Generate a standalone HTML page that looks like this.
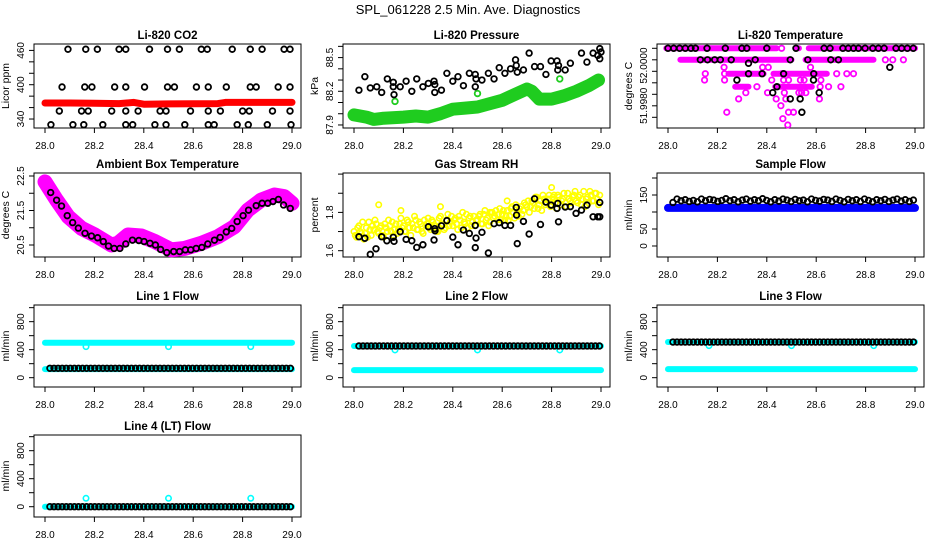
<!DOCTYPE html>
<html><head><meta charset="utf-8">
<style>
html,body{margin:0;padding:0;background:#fff;}
svg{display:block;font-family:"Liberation Sans",Arial,sans-serif;}
</style></head>
<body>
<svg id="chart" width="936" height="540" viewBox="0 0 936 540" xmlns="http://www.w3.org/2000/svg">
<rect width="936" height="540" fill="#fff"/>
<text x="468" y="14" text-anchor="middle" font-size="13" fill="#000">SPL_061228  2.5 Min. Ave. Diagnostics</text>
</svg>
<script>
// ---- data (times are hours after 28.0) ----
const xTickValues=[0,0.2,0.4,0.6,0.8,1.0];
const xTickLabels=["28.0","28.2","28.4","28.6","28.8","29.0"];

// CO2
const co2BlackTimes=[.093,.165,.212,.3,.327,.423,.496,.544,.633,.657,.758,.831,.879,.968,.992,
 .069,.161,.19,.282,.327,.403,.496,.524,.613,.661,.734,.831,.855,.944,.992,
 .058,.148,.175,.27,.327,.377,.466,.49,.589,.661,.71,.8,.827,.921,.992,
 .024,.113,.157,.234,.327,.355,.445,.49,.566,.661,.685,.778,.823,.9,.996];
const co2BlackValues=[462,462,462,462,462,462,462,462,462,462,462,462,462,462,462,
 396,396,396,396,396,396,396,396,396,396,396,396,396,396,396,
 354,354,354,354,354,354,354,354,354,354,354,354,354,354,354,
 330,330,330,330,330,330,330,330,330,330,330,330,330,330,330];
const co2RedTimes=[0,.1,.2,.3,.36,.4,.5,.7,.73,1];
const co2RedValues=[368,368,367.5,367,369,366,366.5,367,369,369];

// Pressure
const presBlackTimes=[.02,.044,.066,.092,.112,.135,.159,.159,.162,.187,.211,.234,.254,.279,.301,.324,.327,.327,.354,.376,.4,.421,.443,.467,.491,.494,.491,.518,.544,.567,.588,.611,.634,.654,.657,.661,.686,.709,.731,.755,.777,.798,.822,.825,.828,.855,.876,.921,.943,.968,.987,.995,.995,1.0];
const presBlackValues=[88.21,88.33,88.23,88.24,88.19,88.31,88.28,88.24,88.17,88.24,88.29,88.20,88.31,88.24,88.27,88.29,88.26,88.19,88.21,88.36,88.29,88.33,88.25,88.36,88.35,88.31,88.24,88.30,88.36,88.31,88.41,88.36,88.40,88.48,88.43,88.37,88.39,88.54,88.42,88.42,88.35,88.47,88.47,88.39,88.43,88.39,88.45,88.54,88.46,88.54,88.52,88.58,88.49,88.55];
const presGreenTimes=[0,.05,.08,.12,.2,.25,.3,.35,.4,.45,.5,.55,.6,.65,.7,.72,.75,.8,.85,.9,.95,.99];
const presGreenValues=[87.99,87.97,87.95,87.96,87.97,87.98,87.97,88.0,88.04,88.05,88.06,88.09,88.12,88.17,88.22,88.2,88.13,88.13,88.16,88.2,88.25,88.3];
const presGreenOutTimes=[.166,.5,.833];
const presGreenOutValues=[88.11,88.18,88.31];

// Li-820 temperature
const tempSegStart=[-0.007,.52,.57,.05,.125,.557,.245,.427,.272,.434];
const tempSegEnd=[.44,.53,1.0,.13,.5,.832,.387,.643,.326,.582];
const tempSegValues=[52.0010,52.0010,52.0010,52.0000,52.0000,52.0000,51.99879,51.99879,51.99766,51.99766];
const tempMagTimes=[.46,.88,.91,.953,.227,.383,.406,.577,.151,.229,.461,.683,.724,.751,.148,.229,.42,.468,.488,.536,.551,.619,.36,.616,.65,.7,.315,.403,.471,.53,.541,.558,.286,.438,.477,.613,.457,.238,.488,.508,.465,.485];
const tempMagValues=[52.0010,52.0000,52.0000,52.0000,51.99935,51.99935,51.99935,51.99935,51.99879,51.99879,51.99879,51.99879,51.99879,51.99879,51.99824,51.99824,51.99824,51.99824,51.99824,51.99824,51.99824,51.99824,51.99766,51.99766,51.99766,51.99766,51.99714,51.99714,51.99714,51.99714,51.99714,51.99714,51.9966,51.9966,51.9966,51.9966,51.99601,51.99544,51.99544,51.99544,51.99488,51.99433];
const tempBlackTimes=[0,.023,.047,.07,.093,.111,.158,.232,.299,.319,.4,.518,.632,.656,.708,.73,.751,.771,.798,.829,.852,.875,.923,.946,.969,.993,
 .131,.16,.189,.212,.256,.353,.495,.566,.659,.69,.898,.326,.326,.381,.468,.59,.279,.589,.441,.424,.612,.495,.535,.542];
const tempBlackValues=[52.0010,52.0010,52.0010,52.0010,52.0010,52.0010,52.0010,52.0010,52.0010,52.0010,52.0010,52.0010,52.0010,52.0010,52.0010,52.0010,52.0010,52.0010,52.0010,52.0010,52.0010,52.0010,52.0010,52.0010,52.0010,52.0010,
 52.0000,52.0000,52.0000,52.0000,52.0000,52.0000,52.0000,52.0000,52.0000,52.0000,51.99935,51.9997,51.99879,51.99879,51.99879,51.99879,51.99824,51.99824,51.99766,51.99714,51.99714,51.9966,51.9966,51.99544];

// Ambient box temperature
const ambMagTimes=[0,.047,.094,.148,.202,.269,.296,.336,.39,.444,.511,.565,.633,.7,.767,.821,.875,.929,.969,1.0];
const ambMagValues=[22.33,21.80,21.32,20.98,20.79,20.5,20.55,20.79,20.76,20.6,20.36,20.40,20.55,20.74,21.03,21.51,21.80,21.95,21.90,21.71];
const ambBlackTimes=[.023,.047,.067,.09,.112,.135,.162,.188,.213,.236,.257,.28,.303,.327,.354,.38,.401,.425,.447,.468,.493,.521,.545,.568,.59,.612,.635,.659,.686,.709,.734,.756,.778,.802,.824,.855,.879,.902,.923,.945,.966,.993];
const ambBlackValues=[22.02,21.80,21.63,21.35,21.15,20.99,20.84,20.76,20.71,20.60,20.47,20.40,20.40,20.53,20.64,20.63,20.60,20.55,20.50,20.37,20.28,20.31,20.31,20.36,20.36,20.40,20.43,20.53,20.64,20.72,20.88,20.98,21.18,21.35,21.51,21.64,21.71,21.71,21.76,21.82,21.66,21.56];

// Gas stream RH
const rhYellowA=[1.70,1.67,1.73,1.69,1.66,1.72,1.75,1.68,1.71,1.74,1.69,1.73,1.67,1.72,1.76,1.70,1.68,1.74,1.71,1.77,1.73,1.70,1.75,1.68,1.72,1.76,1.71,1.74,1.69,1.73,1.77,1.71,1.75,1.73,1.70,1.78,1.74,1.72,1.79,1.75,1.73,1.77,1.71,1.76,1.80,1.74,1.72,1.78,1.75,1.73,1.76,1.79,1.74,1.81,1.77,1.75,1.80,1.78,1.76,1.82,1.79,1.76,1.81,1.78,1.83,1.77,1.80,1.82,1.79,1.85,1.83,1.80,1.86,1.82,1.88,1.84,1.81,1.87,1.85,1.89,1.84,1.87,1.82,1.88,1.86,1.90,1.83,1.87,1.85,1.89,1.86,1.88,1.84,1.91,1.87,1.85,1.89,1.86,1.90,1.84];
const rhYellowB=[1.68,1.72,1.70,1.75,1.69,1.67,1.71,1.73,1.76,1.70,1.72,1.68,1.74,1.70,1.73,1.75,1.71,1.69,1.74,1.72,1.70,1.76,1.72,1.74,1.78,1.71,1.75,1.70,1.76,1.74,1.72,1.76,1.73,1.70,1.77,1.74,1.71,1.76,1.73,1.78,1.76,1.74,1.78,1.72,1.75,1.79,1.77,1.73,1.78,1.76,1.78,1.74,1.79,1.76,1.73,1.80,1.77,1.81,1.79,1.76,1.81,1.78,1.76,1.82,1.80,1.84,1.78,1.83,1.81,1.84,1.86,1.83,1.85,1.88,1.82,1.86,1.89,1.84,1.87,1.83,1.88,1.85,1.89,1.84,1.87,1.83,1.90,1.86,1.88,1.91,1.85,1.89,1.87,1.83,1.88,1.91,1.86,1.90,1.87,1.89];
const rhYellowOutTimes=[.1,.19,.35,.55,.62,.8,.81];
const rhYellowOutValues=[1.84,1.81,1.83,1.80,1.86,1.93,1.89];
const rhBlackTimes=[.02,.044,.066,.089,.112,.133,.159,.162,.187,.211,.234,.254,.279,.301,.324,.327,.328,.354,.376,.4,.421,.443,.467,.491,.494,.491,.518,.544,.567,.588,.611,.634,.657,.658,.661,.686,.709,.731,.755,.777,.798,.822,.825,.828,.855,.876,.899,.921,.943,.968,.987,.995,.995];
const rhBlackValues=[1.673,1.665,1.581,1.610,1.673,1.652,1.670,1.649,1.699,1.659,1.652,1.617,1.631,1.725,1.656,1.715,1.704,1.730,1.757,1.671,1.631,1.708,1.690,1.732,1.666,1.616,1.696,1.588,1.741,1.746,1.732,1.732,1.826,1.786,1.637,1.753,1.687,1.871,1.737,1.854,1.838,1.821,1.847,1.751,1.828,1.830,1.795,1.812,1.838,1.777,1.777,1.852,1.777];

// Sample flow
const sampleBlack=[128,138,133,136,131,134,130,138,133,137,135,131,134,139,133,136,130,135,138,132,136,133,139,134,130,136,132,138,135,131,137,133,135,130,138,134,132,137,135,131,138,134,130,137,133,136,131,138,134,130,136,133,137,131,135,138,132,136,131,135];
const sampleBlueTimes=[0,.25,.5,.75,1];
const sampleBlueValues=[112,112,112,112,112];

// Line flows
const line1Black=[134,134,134,134,134,134,134,134,134,134,134,134,134,134,134,134,134,134,134,134,134,134,134,134,134,134,134,134,134,134,134,134,134,134,134,134,134,134,134,134,134,134,134,134,134,134,134,134,134,134,134,134,134,134,134,134,134,134,134,134];
const line1CyanLevels=[500,122];
const line1DipValues=[443,443,443];
const line2Black=[453,453,453,453,453,453,453,453,453,453,453,453,453,453,453,453,453,453,453,453,453,453,453,453,453,453,453,453,453,453,453,453,453,453,453,453,453,453,453,453,453,453,453,453,453,453,453,453,453,453,453,453,453,453,453,453,453,453,453,453];
const line2CyanLevels=[453,108];
const line2DipValues=[396,396,396];
const line3Black=[509,509,509,509,509,509,509,509,509,509,509,509,509,509,509,509,509,509,509,509,509,509,509,509,509,509,509,509,509,509,509,509,509,509,509,509,509,509,509,509,509,509,509,509,509,509,509,509,509,509,509,509,509,509,509,509,509,509,509,509];
const line3CyanLevels=[509,123];
const line3DipValues=[457,457,457];
const line4Black=[0,0,0,0,0,0,0,0,0,0,0,0,0,0,0,0,0,0,0,0,0,0,0,0,0,0,0,0,0,0,0,0,0,0,0,0,0,0,0,0,0,0,0,0,0,0,0,0,0,0,0,0,0,0,0,0,0,0,0,0];
const line4CyanLevels=[0];
const line4DipValues=[120,120,120];
const dipTimes=[.166,.5,.833];

// ---- drawing ----
const NS="http://www.w3.org/2000/svg";
const svg=document.getElementById('chart');
const colLefts=[34,343,657], boxW=267;
const rowTops=[44,173,305,435], rowBottoms=[128,257,387,517];

function mk(tag,attrs,parent){const e=document.createElementNS(NS,tag);for(const k in attrs)e.setAttribute(k,attrs[k]);parent.appendChild(e);return e;}

function makePanel(name,col,row,title,ylab,ymin,ymax,ticks,labels){
  const L=colLefts[col],T=rowTops[row],B=rowBottoms[row];
  const g=mk('g',{},svg);
  
  
  const p={g,L,T,B,
    x:t=>L+11+t*247,
    y:v=>B-(v-ymin)/(ymax-ymin)*(B-T)};
  const box=mk('rect',{x:L,y:T,width:boxW,height:B-T,fill:'none',stroke:'#000','stroke-width':1},g);
  
  
  const tt=mk('text',{x:L+boxW/2,y:T-5,'text-anchor':'middle','font-size':11.5,'font-weight':'bold'},g);
  tt.textContent=title;
  
  
  const xa=mk('g',{},g);
  
  
  mk('line',{x1:p.x(0),x2:p.x(1),y1:B,y2:B,stroke:'#000'},xa);
  xTickValues.forEach((t,i)=>{
    mk('line',{x1:p.x(t),x2:p.x(t),y1:B,y2:B+5,stroke:'#000'},xa);
    const lb=mk('text',{x:p.x(t),y:B+21,'text-anchor':'middle','font-size':10},xa);
    lb.textContent=xTickLabels[i];
    
    
  });
  const ya=mk('g',{},g);
  
  
  mk('line',{x1:L,x2:L,y1:p.y(ticks[0]),y2:p.y(ticks[ticks.length-1]),stroke:'#000'},ya);
  ticks.forEach(v=>mk('line',{x1:L-5,x2:L,y1:p.y(v),y2:p.y(v),stroke:'#000'},ya));
  labels.forEach(([v,s])=>{
    const yy=p.y(v);
    const lb=mk('text',{x:L-10,y:yy,'text-anchor':'middle','font-size':10,transform:`rotate(-90 ${L-10} ${yy})`},ya);
    lb.textContent=s;
    
    
  });
  const yl=mk('text',{x:L-25,y:(T+B)/2,'text-anchor':'middle','font-size':10.5,transform:`rotate(-90 ${L-25} ${(T+B)/2})`},g);
  yl.textContent=ylab;
  
  
  return p;
}
function pts(p,times,values,color,name,r,sw){
  const g=mk('g',{},p.g);
  
  
  times.forEach((t,i)=>{
    const c=mk('circle',{cx:p.x(t),cy:p.y(values[i]),r:r||2.8,fill:'none',stroke:color,'stroke-width':sw||1.8},g);
    
    
  });
}
function band(p,times,values,color,w,name){
  const d=times.map((t,i)=>p.x(t).toFixed(1)+','+p.y(values[i]).toFixed(1)).join(' ');
  const pl=mk('polyline',{points:d,fill:'none',stroke:color,'stroke-width':w,'stroke-linejoin':'round','stroke-linecap':'round'},p.g);
  
  
}
const flowTimes=sampleBlack.map((_,i)=>0.02+i*0.0165);

let p=makePanel('co2',0,0,'Li-820 CO2','Licor ppm',324.3,471.2,[340,360,380,400,420,440,460],[[340,'340'],[400,'400'],[460,'460']]);
band(p,co2RedTimes,co2RedValues,'#ff0000',7,'co2-red-series');
pts(p,co2BlackTimes,co2BlackValues,'#000','co2-black-series');

p=makePanel('pressure',1,0,'Li-820 Pressure','kPa',87.873,88.621,[87.9,88.0,88.1,88.2,88.3,88.4,88.5,88.6],[[87.9,'87.9'],[88.2,'88.2'],[88.5,'88.5']]);
band(p,presGreenTimes,presGreenValues,'#1fcc1f',13,'pressure-green-series');
pts(p,presGreenOutTimes,presGreenOutValues,'#1fcc1f','pressure-green-outliers');
pts(p,presBlackTimes,presBlackValues,'#000','pressure-black-series');

p=makePanel('li820-temp',2,0,'Li-820 Temperature','degrees C',51.99407,52.001374,[52.001,52.000,51.999,51.998,51.997,51.996,51.995],[[51.9995,'52.0000'],[51.9960,'51.9980']]);
tempSegStart.forEach((s,i)=>band(p,[s,tempSegEnd[i]],[tempSegValues[i],tempSegValues[i]],'#ff00ff',6,'temp-magenta-run'));
pts(p,tempMagTimes,tempMagValues,'#ff00ff','temp-magenta-series',2.7,1.8);
pts(p,tempBlackTimes,tempBlackValues,'#000','temp-black-series');

p=makePanel('ambient',0,1,'Ambient Box Temperature','degrees C',20.152,22.587,[20.5,21.0,21.5,22.0,22.5],[[20.5,'20.5'],[21.5,'21.5'],[22.5,'22.5']]);
band(p,ambMagTimes,ambMagValues,'#ff00ff',15,'ambient-magenta-series');
pts(p,ambBlackTimes,ambBlackValues,'#000','ambient-black-series');

p=makePanel('rh',1,1,'Gas Stream RH','percent',1.5671,2.0057,[1.6,1.7,1.8,1.9,2.0],[[1.6,'1.6'],[1.8,'1.8']]);
pts(p,rhYellowA.map((_,i)=>i*0.01),rhYellowA,'#ffff00','rh-yellow-series-a',2.7,1.6);
pts(p,rhYellowB.map((_,i)=>0.005+i*0.01),rhYellowB,'#ffff00','rh-yellow-series-b',2.7,1.6);
pts(p,rhYellowOutTimes,rhYellowOutValues,'#ffff00','rh-yellow-outliers',2.7,1.6);
pts(p,rhBlackTimes,rhBlackValues,'#000','rh-black-series');

p=makePanel('sample-flow',2,1,'Sample Flow','ml/min',-32.4,214.7,[0,50,100,150,200],[[0,'0'],[50,'50'],[150,'150']]);
band(p,sampleBlueTimes,sampleBlueValues,'#0000ff',8,'sample-blue-series');
pts(p,flowTimes,sampleBlack,'#000','sample-black-series');

const flowTicks=[0,200,400,600,800,1000], flowLabels=[[0,'0'],[400,'400'],[800,'800']];
function flowPanel(name,col,row,title,ymin,ymax,levels,dips,black){
  const q=makePanel(name,col,row,title,'ml/min',ymin,ymax,flowTicks,flowLabels);
  levels.forEach(v=>band(q,[0,1],[v,v],'#00ffff',6,name+'-cyan-series'));
  pts(q,dipTimes,dips,'#00ffff',name+'-cyan-dips',2.7,1.6);
  pts(q,flowTimes,black,'#000',name+'-black-series');
}
flowPanel('line1-flow',0,2,'Line 1 Flow',-133,1038,line1CyanLevels,line1DipValues,line1Black);
flowPanel('line2-flow',1,2,'Line 2 Flow',-133,1038,line2CyanLevels,line2DipValues,line2Black);
flowPanel('line3-flow',2,2,'Line 3 Flow',-133,1038,line3CyanLevels,line3DipValues,line3Black);
flowPanel('line4-flow',0,3,'Line 4 (LT) Flow',-147,1024,line4CyanLevels,line4DipValues,line4Black);
</script>
</body></html>
